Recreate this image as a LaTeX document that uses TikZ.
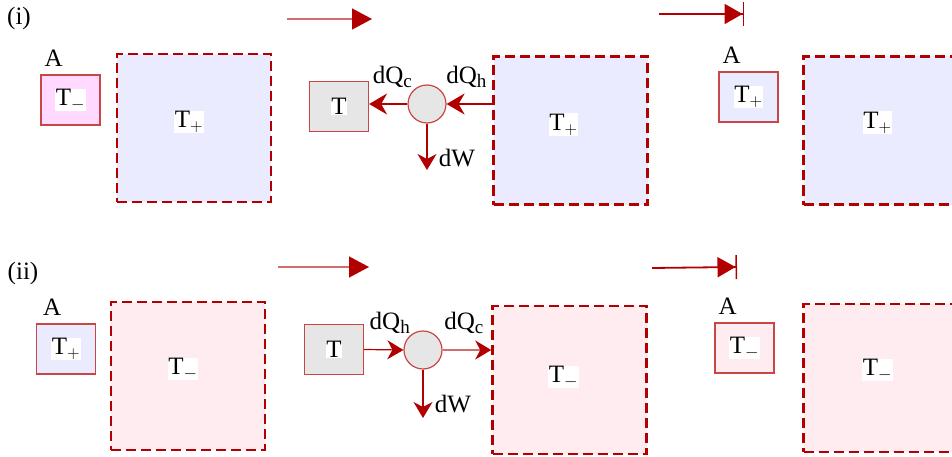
\documentclass[tikz,border=0pt]{standalone}
\usepackage{fontspec}
\setmainfont{Liberation Serif}
\usetikzlibrary{arrows.meta,positioning}
\definecolor{hotred}{RGB}{178,0,0}
\definecolor{edgered}{RGB}{200,70,70}
\definecolor{thinred}{RGB}{210,110,110}
\definecolor{hotfill}{RGB}{235,235,255}
\definecolor{coldfill}{RGB}{255,236,240}
\definecolor{pinkfill}{RGB}{255,217,255}
\definecolor{engfill}{RGB}{230,230,230}
\newcommand{\wt}[1]{{\setlength{\fboxsep}{0.5pt}\colorbox{white}{#1}}}
\newcommand{\lowtx}[1]{\raisebox{-0.35ex}{\fontsize{19}{20}\selectfont #1}}
\tikzset{
  res/.style={rectangle, draw=hotred, dash pattern=on 10pt off 5pt, line width=2.5pt,
              minimum width=154pt, minimum height=148pt, inner sep=0pt},
  sys/.style={rectangle, draw=edgered, line width=1.2pt, minimum width=59pt,
              minimum height=50pt, inner sep=0pt},
  eng/.style={circle, draw=edgered, fill=engfill, line width=1.2pt, minimum size=38pt,
              inner sep=0pt},
  tag/.style={inner sep=0pt},
  move/.style={draw=thinred, line width=1.3pt, -{Triangle[length=20pt, width=21pt, color=hotred]}},
  halt/.style={draw=hotred, line width=1.8pt, -{Triangle[length=18pt, width=20pt]Bar[width=24pt, line width=1.5pt]}},
  flow/.style={draw=hotred, line width=2pt, -{Stealth[length=18pt, width=21pt, inset=6pt]}},
  thinflow/.style={draw=hotred, line width=1.2pt, -{Stealth[length=16pt, width=19pt, inset=5pt]}}
}
\begin{document}
\begin{tikzpicture}[x=1pt, y=-1pt, font=\fontsize{25}{29}\selectfont]
  \useasboundingbox (0,0) rectangle (952,457);
  % (i)
  \node[tag] (ci) at (19,18) {(i)};
  \node[sys, fill=pinkfill] (sa1) at (70.5,100) {\wt{T$_-$}};
  \node[tag, above right=8pt and 4pt of sa1.north west] (la1) {A};
  \node[res, fill=hotfill, label={[tag, xshift=-5pt, yshift=6pt]center:\wt{T$_+$}}] (ra1) at (194,128) {};
  \coordinate (ma1) at (287,19); \coordinate (mb1) at (372,19);
  \draw[move] (ma1) -- (mb1);
  \node[sys, fill=engfill] (tc1) at (339,106.5) {\wt{T}};
  \node[eng] (e1) at (427,104) {};
  \node[res, fill=hotfill, label={[tag, xshift=-7pt, yshift=6pt]center:\wt{T$_+$}}] (rb1) at (570.5,130.5) {};
  \coordinate (w1) at (427,170);
  \draw[flow] (e1 -| rb1.west) -- node[above=12pt, xshift=-3pt]{dQ\lowtx{h}} (e1.east);
  \draw[flow] (e1.west) -- node[above=12pt, xshift=4pt]{dQ\lowtx{c}} (e1 -| tc1.east);
  \draw[thinflow] (e1.south) -- node[pos=0.75, right=8pt]{dW} (w1);
  \coordinate (ha1) at (659,14); \coordinate (hb1) at (744,14);
  \draw[halt] (ha1) -- (hb1);
  \node[sys, fill=hotfill] (sb1) at (748.5,97) {\wt{T$_+$}};
  \node[tag, above right=8pt and 4pt of sb1.north west] (lb1) {A};
  \node[res, fill=hotfill, label={[tag, xshift=-3pt, yshift=8pt]center:\wt{T$_+$}}] (rc1) at (880.5,130.5) {};
  % (ii)
  \node[tag] (cii) at (23,273) {(ii)};
  \node[sys, fill=hotfill] (sa2) at (66,349) {\wt{T$_+$}};
  \node[tag, above right=8pt and 7pt of sa2.north west] (la2) {A};
  \node[res, fill=coldfill, label={[tag, xshift=-5pt, yshift=7pt]center:\wt{T$_-$}}] (ra2) at (188,376) {};
  \coordinate (ma2) at (278,267); \coordinate (mb2) at (369,267);
  \draw[move] (ma2) -- (mb2);
  \node[sys, fill=engfill] (tc2) at (334,349.5) {\wt{T}};
  \node[eng] (e2) at (423,350) {};
  \node[res, fill=coldfill, label={[tag, xshift=-6pt, yshift=3pt]center:\wt{T$_-$}}] (rb2) at (569.5,380) {};
  \coordinate (w2) at (423,418);
  \draw[thinflow] (tc2.east) -- node[above=12pt, xshift=6pt]{dQ\lowtx{h}} (e2.west);
  \draw[thinflow, draw=thinred, -{Stealth[length=16pt, width=19pt, inset=5pt, color=hotred]}]
    (e2.east) -- node[above=12pt, xshift=-3pt]{dQ\lowtx{c}} (e2 -| rb2.west);
  \draw[thinflow] (e2.south) -- node[pos=0.72, right=8pt]{dW} (w2);
  \coordinate (ha2) at (652,268); \coordinate (hb2) at (737,267);
  \draw[halt] (ha2) -- (hb2);
  \node[sys, fill=coldfill] (sb2) at (744.5,348) {\wt{T$_-$}};
  \node[tag, above right=8pt and 4pt of sb2.north west] (lb2) {A};
  \node[res, fill=coldfill, label={[tag, xshift=-3pt, yshift=8pt]center:\wt{T$_-$}}] (rc2) at (880.5,378) {};
\end{tikzpicture}
\end{document}
